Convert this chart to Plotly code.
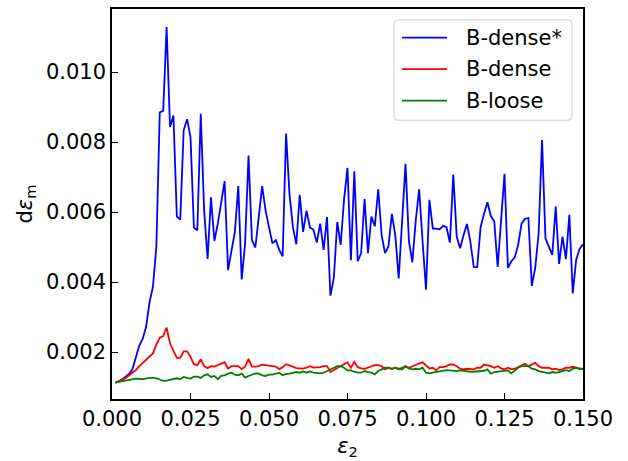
import numpy as np
import plotly.graph_objects as go

# strain axis (138 samples up to 0.15)
eps2 = np.linspace(0.15 / 138, 0.15, 138)

b_dense_star = [
    0.001135, 0.001163, 0.00122, 0.00129, 0.001374, 0.001514, 0.001823, 0.002188, 0.002384, 0.002721,
    0.003423, 0.003872, 0.005015, 0.008849, 0.008888, 0.011283, 0.008428, 0.008756, 0.005874, 0.005781,
    0.008335, 0.008653, 0.008147, 0.005556, 0.005481, 0.008804, 0.006042, 0.004658, 0.006418, 0.005172,
    0.005669, 0.006278, 0.006884, 0.004341, 0.004874, 0.005436, 0.006744, 0.004077, 0.005107, 0.007614,
    0.0052, 0.004987, 0.005857, 0.006744, 0.006042, 0.005621, 0.005107, 0.0052, 0.004919, 0.004734,
    0.008243, 0.006511, 0.005576, 0.005079, 0.006491, 0.005436, 0.006042, 0.005556, 0.0055, 0.005127,
    0.005669, 0.004919, 0.005857, 0.003611, 0.004125, 0.005716, 0.00506, 0.006371, 0.00726, 0.004622,
    0.007165, 0.004594, 0.004827, 0.006371, 0.004827, 0.005874, 0.005593, 0.006651, 0.00534, 0.004827,
    0.005015, 0.005949, 0.00534, 0.004105, 0.005753, 0.007381, 0.005172, 0.004566, 0.005761, 0.006651,
    0.005159, 0.00378, 0.006351, 0.005528, 0.005528, 0.005508, 0.005604, 0.005565, 0.005127, 0.007072,
    0.005295, 0.004967, 0.00534, 0.00566, 0.005155, 0.004425, 0.004425, 0.005576, 0.005949, 0.006278,
    0.005885, 0.005733, 0.004434, 0.005761, 0.007092, 0.004406, 0.004594, 0.004706, 0.00506, 0.005669,
    0.005809, 0.005829, 0.003892, 0.004406, 0.005388, 0.008055, 0.005248, 0.005015, 0.004779, 0.006154,
    0.004518, 0.005295, 0.004658, 0.005921, 0.003676, 0.004639, 0.004947, 0.005077,
]

b_dense = [
    0.00113, 0.001164, 0.001206, 0.001262, 0.001332, 0.001402, 0.001488, 0.001598, 0.001683, 0.001781,
    0.001851, 0.001963, 0.002216, 0.002413, 0.002455, 0.002702, 0.002244, 0.00202, 0.001837, 0.001837,
    0.00202, 0.00202, 0.001865, 0.001655, 0.001627, 0.001795, 0.001598, 0.001542, 0.001598, 0.001585,
    0.001627, 0.001683, 0.001711, 0.001528, 0.001598, 0.001598, 0.001598, 0.001514, 0.001585, 0.001809,
    0.001585, 0.001585, 0.001598, 0.00164, 0.001627, 0.001598, 0.001598, 0.001585, 0.001514, 0.00157,
    0.001655, 0.001627, 0.001585, 0.001542, 0.001528, 0.001528, 0.001556, 0.001598, 0.001556, 0.001556,
    0.00157, 0.001598, 0.001598, 0.00143, 0.001486, 0.001556, 0.001598, 0.001655, 0.00171, 0.001552,
    0.00172, 0.00157, 0.001533, 0.001524, 0.001552, 0.001598, 0.001626, 0.001626, 0.001598, 0.001505,
    0.001552, 0.001524, 0.001552, 0.001505, 0.001552, 0.001598, 0.001552, 0.001598, 0.001645, 0.001673,
    0.00171, 0.001617, 0.001533, 0.001552, 0.001477, 0.00157, 0.00157, 0.001598, 0.001645, 0.001645,
    0.001598, 0.001524, 0.001505, 0.001524, 0.001505, 0.001505, 0.001552, 0.001552, 0.001645, 0.001626,
    0.001598, 0.001552, 0.001598, 0.001533, 0.001505, 0.001552, 0.001505, 0.001524, 0.00157, 0.001626,
    0.001664, 0.001598, 0.001645, 0.001692, 0.001598, 0.001552, 0.001552, 0.001552, 0.001505, 0.001524,
    0.001486, 0.001505, 0.001552, 0.001552, 0.00158, 0.001552, 0.001533, 0.001505,
]

b_loose = [
    0.001131, 0.001149, 0.001159, 0.001177, 0.001187, 0.001206, 0.001243, 0.001234, 0.001224, 0.001252,
    0.001271, 0.001271, 0.001252, 0.001206, 0.001177, 0.001187, 0.001206, 0.001224, 0.001252, 0.001224,
    0.00129, 0.001262, 0.001243, 0.001299, 0.001299, 0.001262, 0.001336, 0.001365, 0.00129, 0.001318,
    0.001224, 0.001318, 0.001336, 0.001383, 0.001411, 0.001355, 0.001336, 0.001383, 0.001271, 0.001318,
    0.001355, 0.001393, 0.001383, 0.001336, 0.001318, 0.001355, 0.001355, 0.001393, 0.001411, 0.001336,
    0.001374, 0.001383, 0.001411, 0.00143, 0.001411, 0.001449, 0.001411, 0.001449, 0.001411, 0.001402,
    0.001393, 0.001411, 0.001458, 0.001505, 0.00157, 0.001598, 0.001598, 0.001552, 0.001477, 0.001477,
    0.001439, 0.001411, 0.001411, 0.001458, 0.00143, 0.001411, 0.001365, 0.001458, 0.001505, 0.001552,
    0.001552, 0.001524, 0.001552, 0.001524, 0.001505, 0.001598, 0.001524, 0.001505, 0.001524, 0.001505,
    0.001552, 0.001411, 0.001393, 0.001411, 0.00143, 0.001458, 0.001486, 0.001486, 0.001477, 0.001458,
    0.001458, 0.001477, 0.001458, 0.001449, 0.001439, 0.001439, 0.001449, 0.001449, 0.001467, 0.001505,
    0.001383, 0.00143, 0.001439, 0.001449, 0.001458, 0.001477, 0.001393, 0.001477, 0.001552, 0.001598,
    0.001598, 0.001598, 0.001524, 0.001505, 0.001458, 0.001439, 0.00143, 0.001393, 0.00143, 0.001411,
    0.00143, 0.001449, 0.001486, 0.001458, 0.001524, 0.001552, 0.001524, 0.001524,
]

series_names = ["B-dense*", "B-dense", "B-loose"]
series_values = [b_dense_star, b_dense, b_loose]
series_colors = ["#0000ff", "#ff0000", "#008000"]

x_ticks = [0.0, 0.025, 0.05, 0.075, 0.1, 0.125, 0.15]
y_ticks = [0.002, 0.004, 0.006, 0.008, 0.010]

FONT = "DejaVu Sans"
W, H = 628, 461
ML, MR, MT, MB = 112, 45, 7, 58
PW, PH = W - ML - MR, H - MT - MB


def px_x(p):
    return (p - ML) / PW


def px_y(p):
    return (H - MB - p) / PH


fig = go.Figure()
for name, vals, color in zip(series_names, series_values, series_colors):
    fig.add_trace(go.Scatter(
        x=eps2, y=vals, mode="lines", name=name,
        line=dict(color=color, width=1.8),
        showlegend=False,
    ))

# legend drawn in matplotlib style (rounded frame, long line samples)
bx0, bx1, by0, by1, r = 394, 572, 18, 120, 4
X0, X1 = px_x(bx0), px_x(bx1)
Y0, Y1 = px_y(by1), px_y(by0)
rx, ry = r / PW, r / PH
frame = (f"M{X0+rx},{Y1} L{X1-rx},{Y1} Q{X1},{Y1} {X1},{Y1-ry} "
         f"L{X1},{Y0+ry} Q{X1},{Y0} {X1-rx},{Y0} L{X0+rx},{Y0} "
         f"Q{X0},{Y0} {X0},{Y0+ry} L{X0},{Y1-ry} Q{X0},{Y1} {X0+rx},{Y1} Z")
shapes = [dict(type="path", xref="paper", yref="paper", path=frame,
               fillcolor="rgba(255,255,255,0.8)", line=dict(color="#d0d0d0", width=1))]
annotations = []
for k, (name, color) in enumerate(zip(series_names, series_colors)):
    yy = px_y(36 + 32 * k)
    shapes.append(dict(type="line", xref="paper", yref="paper",
                       x0=px_x(402), x1=px_x(447), y0=yy, y1=yy,
                       line=dict(color=color, width=1.8)))
    annotations.append(dict(xref="paper", yref="paper", x=px_x(464), y=yy,
                            xanchor="left", yanchor="middle", text=name, showarrow=False,
                            font=dict(family=FONT, size=21, color="black")))

axis_common = dict(
    showline=True, mirror=True, linecolor="black", linewidth=1.5,
    ticks="inside", ticklen=6, tickwidth=1.3, tickcolor="black",
    showgrid=False, zeroline=False,
    tickfont=dict(family=FONT, size=21, color="black"),
)

fig.update_layout(
    width=W, height=H,
    margin=dict(l=ML, r=MR, t=MT, b=MB),
    paper_bgcolor="white", plot_bgcolor="white",
    font=dict(family=FONT, size=21, color="black"),
    xaxis=dict(
        range=[0, 0.15], tickvals=x_ticks, tickformat=".3f",
        title=dict(text="<i>ε</i><sub>2</sub>", font=dict(family=FONT, size=21), standoff=8),
        **axis_common,
    ),
    yaxis=dict(
        range=[0.00066, 0.0118], tickvals=y_ticks, tickformat=".3f",
        title=dict(text="d<i>ε</i><sub>m</sub>", font=dict(family=FONT, size=21), standoff=8),
        **axis_common,
    ),
    shapes=shapes,
    annotations=annotations,
    showlegend=False,
)

fig.write_html("out.html")
